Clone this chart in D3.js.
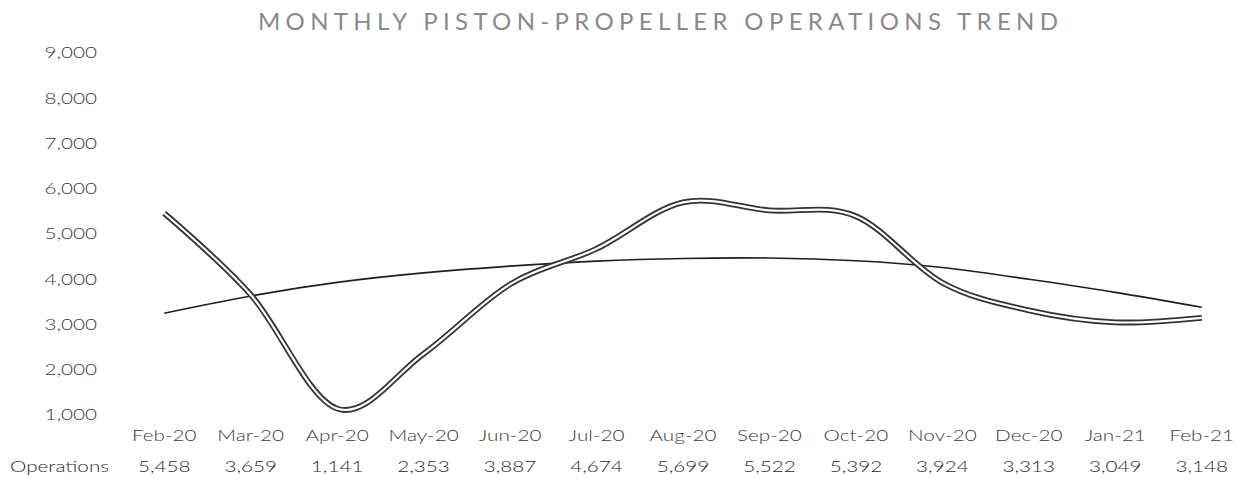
<!DOCTYPE html>
<html>
<head>
<meta charset="utf-8">
<script src="https://cdn.jsdelivr.net/npm/d3@7"></script>
<style>
  body { margin: 0; background: #fff; }
  text { font-family: Lato, "Open Sans", sans-serif; }
</style>
</head>
<body>
<svg id="svg" width="1245" height="483"></svg>
<script>
var months = ["Feb-20", "Mar-20", "Apr-20", "May-20", "Jun-20", "Jul-20", "Aug-20",
              "Sep-20", "Oct-20", "Nov-20", "Dec-20", "Jan-21", "Feb-21"];
var operations = [5458, 3659, 1141, 2353, 3887, 4674, 5699, 5522, 5392, 3924, 3313, 3049, 3148];
// trendline
var trend = [3250, 3630, 3930, 4140, 4290, 4400, 4460, 4470, 4410, 4260, 4000, 3710, 3380];
var yTicks = [1000, 2000, 3000, 4000, 5000, 6000, 7000, 8000, 9000];
var seriesName = "Operations";
var title = "MONTHLY PISTON-PROPELLER OPERATIONS TREND";

var svg = d3.select("#svg");
var sx = 1.38; // the picture's text is stretched sideways

var x = d3.scalePoint().domain(months).range([121, 1245]).padding(0.5);
var y = d3.scaleLinear().domain([1000, 9000]).range([415, 53]);

var stretch = function(sel) {
  sel.each(function() {
    var t = d3.select(this);
    var px = +t.attr("x");
    t.attr("transform", "translate(" + px * (1 - sx) + ",0) scale(" + sx + ",1)");
  });
};

// title
svg.append("text")
  .attr("x", 258)
  .attr("y", 30)
  .attr("textLength", 800)
  .attr("lengthAdjust", "spacing")
  .attr("font-size", 24)
  .attr("fill", "#8a8a8a")
  .text(title);

// y axis labels (no axis line, no gridlines)
var yAxis = svg.append("g")
  .attr("transform", "translate(97,0)")
  .call(d3.axisLeft(y).tickValues(yTicks).tickFormat(d3.format(",")).tickSize(0).tickPadding(0));
yAxis.select(".domain").remove();
yAxis.selectAll("text")
  .attr("font-size", 15)
  .attr("font-weight", 300)
  .attr("fill", "#3a3a3a")
  .attr("font-family", "Lato")
  .attr("x", 0)
  .call(stretch);

// category labels
svg.append("g").selectAll("text").data(months).enter().append("text")
  .attr("x", function(d) { return x(d); })
  .attr("y", 441)
  .attr("text-anchor", "middle")
  .attr("font-size", 15)
  .attr("font-weight", 300)
  .attr("fill", "#3a3a3a")
  .text(function(d) { return d; })
  .call(stretch);

// data table row
svg.append("text")
  .attr("x", 10)
  .attr("y", 472)
  .attr("font-size", 15)
  .attr("font-weight", 300)
  .attr("fill", "#2a2a2a")
  .text(seriesName)
  .call(stretch);

svg.append("g").selectAll("text").data(operations).enter().append("text")
  .attr("x", function(d, i) { return x(months[i]); })
  .attr("y", 472)
  .attr("text-anchor", "middle")
  .attr("font-size", 15)
  .attr("font-weight", 300)
  .attr("fill", "#2a2a2a")
  .text(function(d) { return d3.format(",")(d); })
  .call(stretch);

// trendline
var trendLine = d3.line()
  .x(function(d, i) { return x(months[i]); })
  .y(function(d) { return y(d); })
  .curve(d3.curveNatural);

svg.append("path")
  .datum(trend)
  .attr("d", trendLine)
  .attr("fill", "none")
  .attr("stroke", "#1e1e1e")
  .attr("stroke-width", 1.6);

// series: smoothed double line
var opLine = d3.line()
  .x(function(d, i) { return x(months[i]); })
  .y(function(d) { return y(d); })
  .curve(d3.curveCatmullRom.alpha(0));

svg.append("path")
  .datum(operations)
  .attr("d", opLine)
  .attr("fill", "none")
  .attr("stroke", "#333")
  .attr("stroke-width", 5.8);

svg.append("path")
  .datum(operations)
  .attr("d", opLine)
  .attr("fill", "none")
  .attr("stroke", "#fff")
  .attr("stroke-width", 2.2);
</script>
</body>
</html>
